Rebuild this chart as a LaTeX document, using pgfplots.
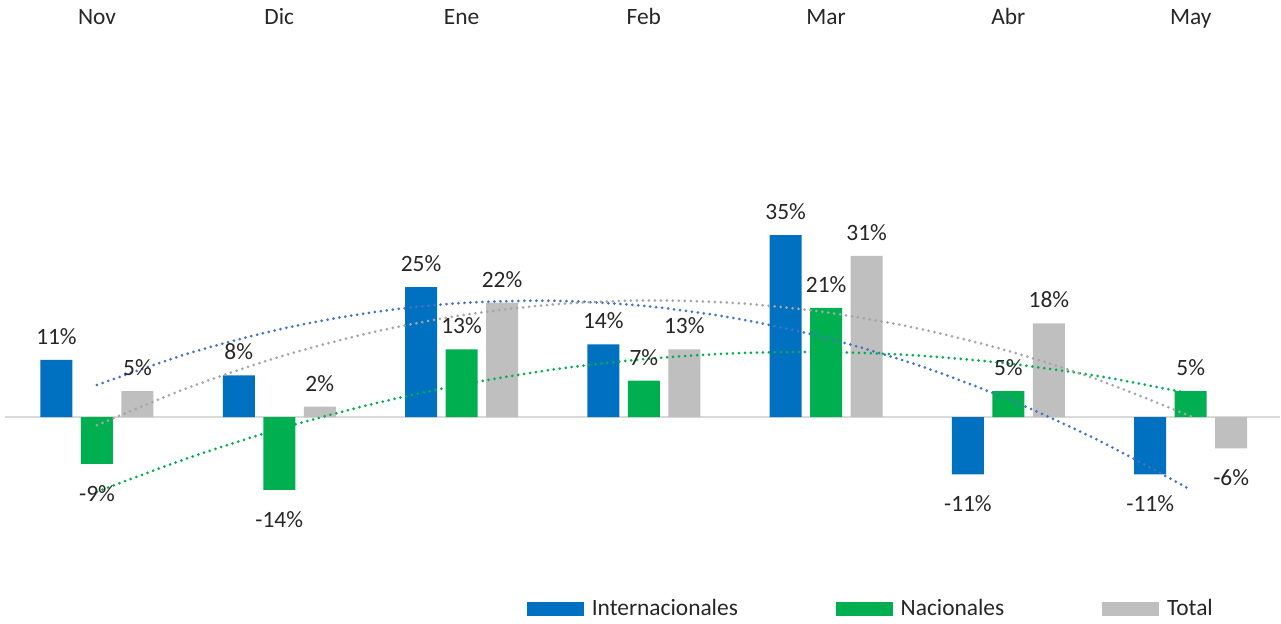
\documentclass[border=0pt]{standalone}
\usepackage{pgfplots}
\pgfplotsset{compat=1.18}
\usepackage{fontspec}
\setmainfont{Carlito}

\definecolor{cblue}{HTML}{0070C0}
\definecolor{cgreen}{HTML}{00B050}
\definecolor{cgray}{HTML}{BFBFBF}
\definecolor{tblue}{HTML}{4472C4}
\definecolor{tgreen}{HTML}{00B050}
\definecolor{tgray}{HTML}{A6A6A6}
\definecolor{txt}{HTML}{262626}
\definecolor{zline}{HTML}{D9D9D9}

\pgfplotsset{
  barra/.style n args={2}{ybar, bar width=16pt, bar shift=#2, fill=#1, draw=none, forget plot,
    nodes near coords={\pgfmathprintnumber[assume math mode=true]{\pgfplotspointmeta}\%},
    nodes near coords align=vertical,
    visualization depends on=rawy \as \rawy,
    every node near coord/.append style={text=txt, inner xsep=0pt, xshift=#2,
      inner ysep={ifthenelse(\rawy<0,10.5,7.5)}}},
  tend/.style={smooth, forget plot, line width=1.5pt, line cap=round,
    dash pattern=on 0pt off 3pt, color=#1},
}

\begin{document}
\fontsize{11.7}{14}\selectfont
\begin{tikzpicture}
\begin{axis}[
  scale only axis, width=640.5pt, height=310.5pt,
  xmin=-0.532, xmax=6.495, ymin=-39.6, ymax=79.8,
  axis line style={draw=none}, ytick=\empty,
  xtick={0,...,6}, xticklabels={Nov,Dic,Ene,Feb,Mar,Abr,May},
  xticklabel pos=upper, major tick length=0pt,
  xticklabel style={anchor=base, yshift=-11pt, text=txt},
  clip=false,
  legend style={at={(axis cs:2.359,-36.92)}, anchor=west, draw=none, fill=none,
    inner sep=0pt, outer sep=0pt, legend columns=3,
    /tikz/every odd column/.append style={column sep=4pt},
    /tikz/every even column/.append style={column sep=49pt},
    nodes={inner sep=0pt, text=txt}},
]
% linea del cero
\draw[zline, line width=1pt] (axis cs:-0.505,0) -- (axis cs:6.49,0);

% barras
\addplot[barra={cblue}{-20.25pt}] coordinates {
  (0,11) (1,8) (2,25) (3,14) (4,35) (5,-11) (6,-11)};
\addplot[barra={cgreen}{0pt}] coordinates {
  (0,-9) (1,-14) (2,13) (3,7) (4,21) (5,5) (6,5)};
\addplot[barra={cgray}{20.25pt}] coordinates {
  (0,5) (1,2) (2,22) (3,13) (4,31) (5,18) (6,-6)};

% lineas de tendencia (polinomica)
\addplot[tend=tblue] coordinates {
  (0,6.17) (0.5,12.21) (1,16.86) (1.5,20.09) (2,21.93) (2.5,22.36) (3,21.38)
  (3.5,19.00) (4,15.21) (4.5,10.02) (5,3.43) (5.5,-4.58) (6,-13.98)};
\addplot[tend=tgreen] coordinates {
  (0,-14.36) (0.5,-7.88) (1,-2.29) (1.5,2.41) (2,6.21) (2.5,9.13) (3,11.14)
  (3.5,12.27) (4,12.50) (4.5,11.84) (5,10.29) (5.5,7.84) (6,4.50)};
\addplot[tend=tgray] coordinates {
  (0,-1.57) (0.5,5.64) (1,11.57) (1.5,16.21) (2,19.57) (2.5,21.64) (3,22.43)
  (3.5,21.93) (4,20.14) (4.5,17.07) (5,12.71) (5.5,7.07) (6,0.14)};

% leyenda
\addlegendimage{legend image code/.code={\fill[cblue] (0pt,-3.25pt) rectangle (28pt,3.25pt);}}
\addlegendentry{Internacionales}
\addlegendimage{legend image code/.code={\fill[cgreen] (0pt,-3.25pt) rectangle (28pt,3.25pt);}}
\addlegendentry{Nacionales}
\addlegendimage{legend image code/.code={\fill[cgray] (0pt,-3.25pt) rectangle (28pt,3.25pt);}}
\addlegendentry{Total}
\end{axis}
\end{tikzpicture}
\end{document}
